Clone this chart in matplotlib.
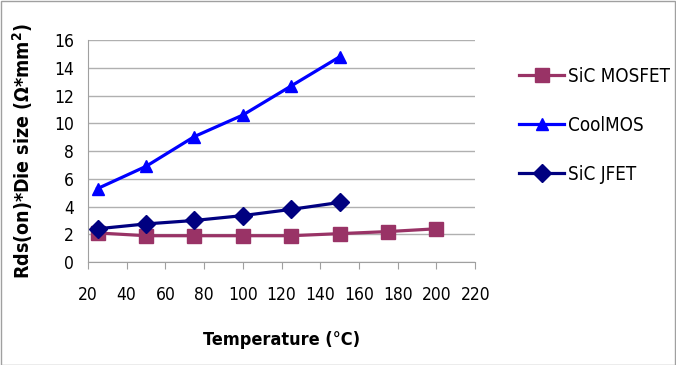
import matplotlib
matplotlib.use('Agg')
from matplotlib import pyplot as plt
from matplotlib.patches import Rectangle

temp_mosfet = [25, 50, 75, 100, 125, 150, 175, 200]
rds_mosfet = [2.1, 1.9, 1.9, 1.9, 1.9, 2.05, 2.2, 2.4]
temp_coolmos = [25, 50, 75, 100, 125, 150]
rds_coolmos = [5.3, 6.9, 9.05, 10.6, 12.7, 14.8]
temp_jfet = [25, 50, 75, 100, 125, 150]
rds_jfet = [2.4, 2.75, 3.0, 3.35, 3.8, 4.3]

plt.rcParams['font.family'] = ['DejaVu Sans']
plt.rcParams['font.stretch'] = 'condensed'

fig = plt.figure(figsize=(6.76, 3.65), dpi=100)
ax = fig.add_axes([0.130, 0.282, 0.573, 0.608])

ax.plot(temp_mosfet, rds_mosfet, color='#993366', marker='s', markersize=10,
        linewidth=2.3, label='SiC MOSFET')
ax.plot(temp_coolmos, rds_coolmos, color='#0000ff', marker='^', markersize=9,
        linewidth=2.3, label='CoolMOS')
ax.plot(temp_jfet, rds_jfet, color='#000080', marker='D', markersize=9,
        linewidth=2.3, label='SiC JFET')

ax.set_xlim(20, 220)
ax.set_ylim(0, 16)
ax.set_xticks(range(20, 221, 20))
ax.set_yticks(range(0, 17, 2))
ax.grid(axis='y', color='#b0b0b0', linewidth=1)
ax.set_axisbelow(True)
for s in ['top', 'right']:
    ax.spines[s].set_visible(False)
ax.spines['left'].set_color('#a0a0a0')
ax.spines['bottom'].set_color('#a0a0a0')
ax.tick_params(axis='both', labelsize=12.5, color='#a0a0a0', length=5)
ax.tick_params(axis='x', pad=12, direction='out')
ax.tick_params(axis='y', length=0, pad=10)

ax.set_xlabel('Temperature (°C)', fontsize=13, fontweight='bold', labelpad=20)
ax.set_ylabel('Rds(on)*Die size (Ω*mm$^\\mathbf{2}$)', fontsize=14,
              fontweight='bold', labelpad=14)

ax.legend(loc='upper left', bbox_to_anchor=(1.07, 0.955), frameon=False,
          fontsize=13.5, handlelength=2.4, handletextpad=0.2, labelspacing=1.6)

fig.patches.append(Rectangle((0.001, 0.001), 0.997, 0.997, transform=fig.transFigure,
                             fill=False, edgecolor='#a0a0a0', linewidth=1))

fig.savefig('out.png', dpi=100)
